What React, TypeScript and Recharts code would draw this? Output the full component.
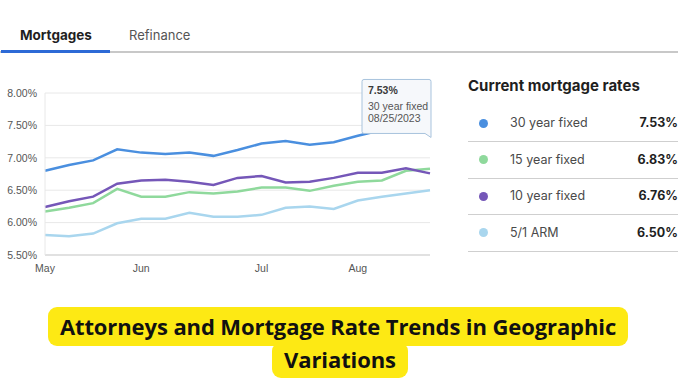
import React from 'react';
import { LineChart, Line, XAxis, YAxis, CartesianGrid, ReferenceDot } from 'recharts';

const dates = [
  '05/05/2023', '05/12/2023', '05/19/2023', '05/26/2023', '06/02/2023', '06/09/2023',
  '06/16/2023', '06/23/2023', '06/30/2023', '07/07/2023', '07/14/2023', '07/21/2023',
  '07/28/2023', '08/04/2023', '08/11/2023', '08/18/2023', '08/25/2023',
];
const fixed30 = [6.80, 6.89, 6.96, 7.13, 7.08, 7.06, 7.08, 7.03, 7.12, 7.22, 7.26, 7.20, 7.24, 7.34, 7.43, 7.48, 7.53];
const fixed15 = [6.17, 6.23, 6.30, 6.52, 6.40, 6.40, 6.47, 6.45, 6.48, 6.54, 6.54, 6.49, 6.57, 6.63, 6.65, 6.80, 6.83];
const fixed10 = [6.24, 6.33, 6.40, 6.60, 6.65, 6.66, 6.63, 6.58, 6.69, 6.72, 6.62, 6.63, 6.69, 6.77, 6.77, 6.84, 6.76];
const arm51 = [5.81, 5.79, 5.83, 5.99, 6.06, 6.06, 6.15, 6.09, 6.09, 6.12, 6.23, 6.25, 6.21, 6.34, 6.40, 6.45, 6.50];

const tickDates = ['05/05/2023', '06/02/2023', '07/07/2023', '08/04/2023'];
const tickLabels = ['May', 'Jun', 'Jul', 'Aug'];
const yTicks = [5.5, 6.0, 6.5, 7.0, 7.5, 8.0];

const seriesNames = ['30 year fixed', '15 year fixed', '10 year fixed', '5/1 ARM'];
const seriesKeys = ['fixed30', 'fixed15', 'fixed10', 'arm51'];
const seriesColors = ['#4a8fdf', '#8fd99c', '#7557b8', '#a9d6ee'];
const currentRates = ['7.53%', '6.83%', '6.76%', '6.50%'];

const tabs = ['Mortgages', 'Refinance'];
const panelTitle = 'Current mortgage rates';
const titleLine1 = 'Attorneys and Mortgage Rate Trends in Geographic';
const titleLine2 = 'Variations';

const data = dates.map((d, i) => ({
  date: d,
  fixed30: fixed30[i],
  fixed15: fixed15[i],
  fixed10: fixed10[i],
  arm51: arm51[i],
}));

const lastIdx = dates.length - 1;

const TooltipShape = (props: any) => {
  const { cx, cy } = props;
  if (cx == null || cy == null) return null;
  const l = cx - 68;
  const r = cx + 1;
  const t = cy - 44;
  const b = cy + 10;
  const path = `M${l + 2},${t} L${r - 2},${t} Q${r},${t} ${r},${t + 2} L${r},${b + 4} L${r - 6},${b} L${l + 2},${b} Q${l},${b} ${l},${b - 2} L${l},${t + 2} Q${l},${t} ${l + 2},${t} Z`;
  return (
    <g>
      <path d={path} fill="#f6f8fb" stroke="#a8c3dd" strokeWidth={1} />
      <text x={l + 6} y={cy - 29.5} fontSize={10.5} fontWeight={700} fill="#3a3a3a" fontFamily="Liberation Sans, Arial, sans-serif">
        {fixed30[lastIdx].toFixed(2)}%
      </text>
      <text x={l + 6} y={cy - 13} fontSize={10.5} fill="#555" fontFamily="Liberation Sans, Arial, sans-serif">
        {seriesNames[0]}
      </text>
      <text x={l + 6} y={cy - 1.5} fontSize={10.5} fill="#555" fontFamily="Liberation Sans, Arial, sans-serif">
        {dates[lastIdx]}
      </text>
    </g>
  );
};

export default function App() {
  const uiFont = 'Inter, "Noto Sans", sans-serif';
  return (
    <div style={{ position: 'absolute', left: 0, top: 0, width: 678, height: 381, background: '#fff', overflow: 'hidden' }}>
      {/* Tabs */}
      <div style={{ position: 'absolute', left: 20, top: 27, fontFamily: uiFont, fontSize: 13.5, fontWeight: 700, color: '#1f1f1f' }}>{tabs[0]}</div>
      <div style={{ position: 'absolute', left: 129, top: 27, fontFamily: uiFont, fontSize: 13, fontWeight: 400, color: '#555' }}>{tabs[1]}</div>
      <div style={{ position: 'absolute', left: 0, top: 51, width: 678, height: 1.5, background: '#c8c8c8' }} />
      <div style={{ position: 'absolute', left: 1, top: 50, width: 109, height: 3, background: '#2d6ad6' }} />

      {/* Chart */}
      <div style={{ position: 'absolute', left: 0, top: 0 }}>
        <LineChart width={440} height={290} data={data} margin={{ top: 93, right: 10, left: 0, bottom: 0 }}>
          <CartesianGrid vertical={false} stroke="#e8e8e8" />
          <XAxis
            dataKey="date"
            type="category"
            ticks={tickDates}
            tickFormatter={(v: string) => tickLabels[tickDates.indexOf(v)] ?? ''}
            interval={0}
            height={35}
            axisLine={{ stroke: '#cfcfcf' }}
            tickLine={false}
            tickMargin={4}
            tick={{ fontSize: 10.5, fill: '#555', fontFamily: 'Liberation Sans, Arial, sans-serif' }}
          />
          <YAxis
            domain={[5.5, 8]}
            ticks={yTicks}
            width={45}
            axisLine={{ stroke: '#e8e8e8' }}
            tickLine={false}
            tickFormatter={(v: number) => `${v.toFixed(2)}%`}
            tick={{ fontSize: 10.5, fill: '#555', fontFamily: 'Liberation Sans, Arial, sans-serif' }}
          />
          {[3, 1, 2, 0].map((i) => (
            <Line
              key={seriesKeys[i]}
              type="linear"
              dataKey={seriesKeys[i]}
              stroke={seriesColors[i]}
              strokeWidth={2.5}
              dot={false}
              isAnimationActive={false}
            />
          ))}
          <ReferenceDot x={dates[lastIdx]} y={fixed30[lastIdx]} ifOverflow="visible" shape={TooltipShape} />
        </LineChart>
      </div>

      {/* Right panel */}
      <div style={{ position: 'absolute', left: 468, top: 76, fontFamily: uiFont, fontSize: 15, fontWeight: 700, color: '#1f1f1f', whiteSpace: 'nowrap' }}>{panelTitle}</div>
      {seriesNames.map((name, i) => {
        const cy = 123 + i * 36.6;
        return (
          <React.Fragment key={name}>
            <div style={{ position: 'absolute', left: 478.5, top: cy - 4.5, width: 9, height: 9, borderRadius: '50%', background: seriesColors[i] }} />
            <div style={{ position: 'absolute', left: 510, top: cy - 9, fontFamily: uiFont, fontSize: 12.5, color: '#4a4a4a', lineHeight: '18px', whiteSpace: 'nowrap' }}>{name}</div>
            <div style={{ position: 'absolute', right: 0, top: cy - 9, fontFamily: uiFont, fontSize: 12.5, fontWeight: 700, color: '#1f1f1f', lineHeight: '18px' }}>{currentRates[i]}</div>
            <div style={{ position: 'absolute', left: 468, top: cy + 18, width: 210, height: 1, background: '#cfcfcf' }} />
          </React.Fragment>
        );
      })}

      {/* Bottom title */}
      <div style={{ position: 'absolute', left: 48, top: 307, width: 580, height: 39, background: '#fde914', borderRadius: 9 }} />
      <div style={{ position: 'absolute', left: 272, top: 342, width: 136, height: 36, background: '#fde914', borderRadius: 9 }} />
      <div style={{ position: 'absolute', left: 48, top: 312, width: 580, textAlign: 'center', fontFamily: '"Open Sans", sans-serif', fontSize: 22, fontWeight: 700, color: '#111', lineHeight: '28px', whiteSpace: 'nowrap', letterSpacing: -0.1 }}>{titleLine1}</div>
      <div style={{ position: 'absolute', left: 272, top: 345, width: 136, textAlign: 'center', fontFamily: '"Open Sans", sans-serif', fontSize: 22, fontWeight: 700, color: '#111', lineHeight: '28px', whiteSpace: 'nowrap', letterSpacing: -0.1 }}>{titleLine2}</div>
    </div>
  );
}
